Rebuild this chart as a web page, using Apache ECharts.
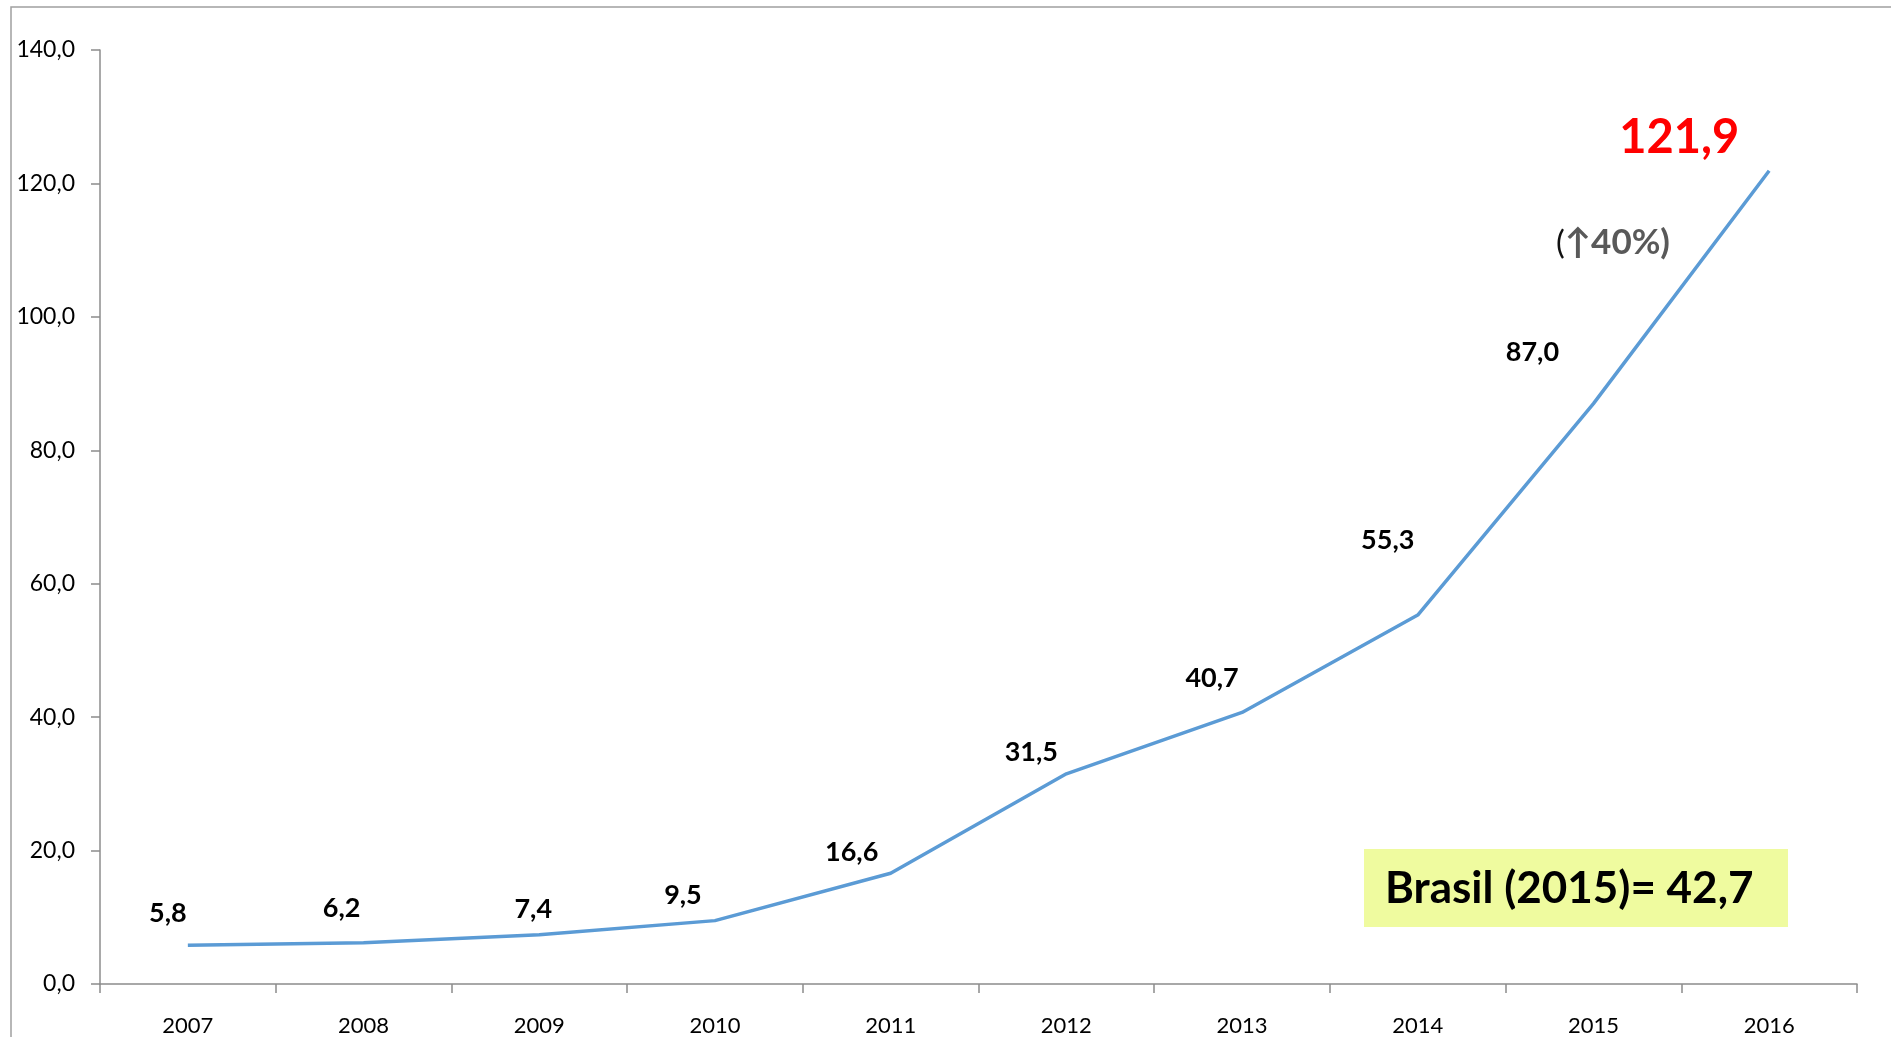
<!DOCTYPE html>
<html>
<head>
<meta charset="utf-8">
<script src="https://cdn.jsdelivr.net/npm/echarts@6/dist/echarts.min.js"></script>
<style>
  html, body { margin: 0; padding: 0; background: #fff; }
  #chart { width: 1891px; height: 1037px; }
</style>
</head>
<body>
<div id="chart"></div>
<script>
// dados
const years = ['2007', '2008', '2009', '2010', '2011', '2012', '2013', '2014', '2015', '2016'];
const values = [5.8, 6.2, 7.4, 9.5, 16.6, 31.5, 40.7, 55.3, 87.0, 121.9];
const yTicks = [0, 20, 40, 60, 80, 100, 120, 140];
const growthNote = '40%';
const brasilNote = 'Brasil (2015)= 42,7';

// deslocamento dos rótulos (px) em relação ao ponto
const labelOffsets = [[-20, -32], [-22, -34], [-6, -25], [-32, -25], [-39, -21],
  [-35, -22], [-30, -34], [-30, -75], [-61, -51], [-90, -33]];

const fmt = v => v.toFixed(1).replace('.', ',');
const font = 'Lato, "Open Sans", sans-serif';
const axisColor = '#8c8c8c';

const chart = echarts.init(document.getElementById('chart'));

const seriesData = values.map((v, i) => {
  const item = { value: v, label: { offset: labelOffsets[i] } };
  if (i === values.length - 1) {
    item.label.color = '#ff0000';
    item.label.fontSize = 47;
  }
  return item;
});

const option = {
  animation: false,
  backgroundColor: '#fff',
  grid: { left: 100, right: 34, top: 50, bottom: 53 },
  xAxis: {
    type: 'category',
    data: years,
    boundaryGap: true,
    axisLine: { lineStyle: { color: axisColor, width: 1.5 } },
    axisTick: { show: true, length: 9, lineStyle: { color: axisColor, width: 1.5 } },
    axisLabel: { color: '#000', fontFamily: font, fontSize: 22, margin: 31 }
  },
  yAxis: {
    type: 'value',
    min: yTicks[0],
    max: yTicks[yTicks.length - 1],
    interval: yTicks[1] - yTicks[0],
    splitLine: { show: false },
    axisLine: { show: true, lineStyle: { color: axisColor, width: 1.5 } },
    axisTick: { show: true, length: 9, lineStyle: { color: axisColor, width: 1.5 } },
    axisLabel: { color: '#000', fontFamily: font, fontSize: 23, margin: 25, formatter: v => fmt(v) }
  },
  series: [{
    type: 'line',
    data: seriesData,
    showSymbol: true,
    symbol: 'circle',
    symbolSize: 1,
    itemStyle: { color: 'rgba(0,0,0,0)' },
    lineStyle: { color: '#5b9bd5', width: 3.5 },
    label: {
      show: true,
      position: 'inside',
      formatter: p => fmt(p.value),
      color: '#000',
      fontFamily: font,
      fontWeight: 'bold',
      fontSize: 27
    }
  }],
  graphic: [
    {
      // moldura
      type: 'rect',
      shape: { x: 11, y: 7, width: 2000, height: 2000 },
      style: { fill: 'none', stroke: '#a0a0a0', lineWidth: 1.5 },
      silent: true
    },
    {
      type: 'text',
      x: 1613,
      y: 243,
      style: {
        text: '{p|(}{g|↑' + growthNote + ')}',
        align: 'center',
        verticalAlign: 'middle',
        rich: {
          p: { fontFamily: font, fontSize: 33, fill: '#111' },
          g: { fontFamily: font, fontSize: 35, fontWeight: 'bold', fill: '#595959' }
        }
      }
    },
    {
      type: 'group',
      left: 1364,
      top: 849,
      children: [
        {
          type: 'rect',
          shape: { x: 0, y: 0, width: 424, height: 78 },
          style: { fill: '#effb9f' }
        },
        {
          type: 'text',
          x: 21,
          y: 40,
          style: {
            text: brasilNote,
            fontFamily: font,
            fontWeight: 'bold',
            fontSize: 44,
            fill: '#000',
            verticalAlign: 'middle'
          }
        }
      ]
    }
  ]
};

chart.setOption(option);
window.addEventListener('resize', () => chart.resize());
</script>
</body>
</html>
